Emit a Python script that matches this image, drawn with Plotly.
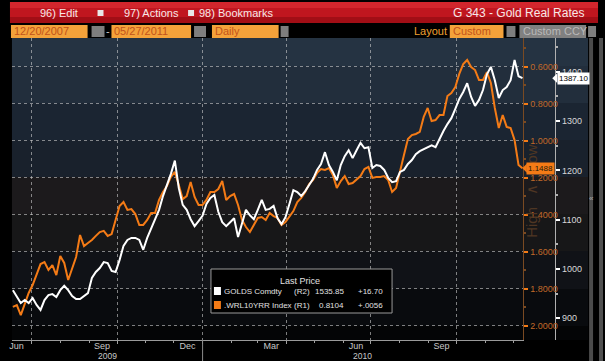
import plotly.graph_objects as go
import pandas as pd

W, H = 605, 361

# ---------------- data ----------------
dates = pd.date_range("2009-06-11", "2010-12-11", periods=130)

gold = [
    957, 943, 931, 937, 931, 941, 927, 917, 937, 947,
    949, 943, 957, 966, 957, 945, 939, 939, 945, 951,
    982, 994, 1002, 1014, 1012, 996, 994, 1018, 1047, 1059,
    1063, 1063, 1059, 1039, 1063, 1083, 1099, 1120, 1148, 1170,
    1193, 1220, 1164, 1130, 1120, 1101, 1087, 1097, 1108, 1132,
    1144, 1150, 1116, 1095, 1087, 1095, 1103, 1065, 1091, 1120,
    1109, 1101, 1120, 1140, 1120, 1122, 1128, 1103, 1091, 1105,
    1132, 1160, 1156, 1148, 1158, 1170, 1183, 1201, 1213, 1237,
    1211, 1197, 1180, 1211, 1229, 1241, 1225, 1241, 1256, 1245,
    1247, 1205, 1211, 1209, 1201, 1185, 1176, 1178, 1197, 1201,
    1213, 1221, 1233, 1239, 1243, 1247, 1251, 1247, 1264, 1280,
    1294, 1306, 1325, 1345, 1359, 1377, 1349, 1331, 1343, 1363,
    1395, 1410, 1383, 1347, 1363, 1369, 1383, 1424, 1391, 1387.10,
]

real_rate = [
    1.897, 1.887, 1.941, 1.876, 1.822, 1.779, 1.725, 1.666, 1.655, 1.698,
    1.671, 1.725, 1.622, 1.660, 1.752, 1.687, 1.628, 1.509, 1.569, 1.552,
    1.536, 1.514, 1.493, 1.487, 1.514, 1.504, 1.428, 1.353, 1.331, 1.374,
    1.369, 1.396, 1.455, 1.455, 1.428, 1.390, 1.390, 1.320, 1.277, 1.245,
    1.196, 1.169, 1.239, 1.315, 1.299, 1.223, 1.304, 1.347, 1.347, 1.320,
    1.277, 1.277, 1.261, 1.218, 1.320, 1.299, 1.288, 1.347, 1.428, 1.466,
    1.493, 1.455, 1.417, 1.412, 1.428, 1.390, 1.407, 1.417, 1.455, 1.439,
    1.407, 1.380, 1.331, 1.309, 1.277, 1.234, 1.212, 1.174, 1.153, 1.158,
    1.148, 1.185, 1.255, 1.218, 1.191, 1.234, 1.229, 1.212, 1.191, 1.153,
    1.142, 1.201, 1.196, 1.196, 1.191, 1.212, 1.277, 1.255, 1.158, 1.077,
    0.991, 0.970, 0.964, 0.953, 0.872, 0.824, 0.894, 0.889, 0.862, 0.862,
    0.759, 0.743, 0.711, 0.640, 0.587, 0.565, 0.603, 0.619, 0.673, 0.673,
    0.630, 0.689, 0.824, 0.932, 0.862, 0.926, 0.932, 0.997, 1.131, 1.1488,
]

x_tick_dates = ["2009-07-01", "2009-10-01", "2010-01-01", "2010-04-01", "2010-07-01", "2010-10-01"]
x_tick_text = ["Jun", "Sep", "Dec", "Mar", "Jun", "Sep"]
year_labels = ["2009", "2010"]
year_centers = ["2009-09-21", "2010-06-22"]

rate_ticks = [0.6, 0.8, 1.0, 1.2, 1.4, 1.6, 1.8, 2.0]
gold_ticks = [900, 1000, 1100, 1200, 1300, 1400]

legend_names = ["GOLDS Comdty", ".WRL10YRR Index"]
legend_axes = ["(R2)", "(R1)"]
legend_last = ["1535.85", "0.8104"]
legend_change = ["+16.70", "+.0056"]

ORANGE = "#f47b16"
FONT = "Liberation Sans"


def px(x):
    return x / W


def py(y):
    return 1 - y / H


fig = go.Figure()
fig.add_trace(go.Scatter(x=dates, y=real_rate, mode="lines", yaxis="y",
                         line=dict(color=ORANGE, width=2), name=legend_names[1]))
fig.add_trace(go.Scatter(x=dates, y=gold, mode="lines", yaxis="y2",
                         line=dict(color="#ffffff", width=2), name=legend_names[0]))

shapes = []
annotations = []

# background bands of the chart body
bands = [(38, 66, "#253342"), (66, 103, "#222e3c"), (103, 140, "#1b2532"),
         (140, 177, "#19212c"), (177, 214, "#1c1a1c"), (214, 251, "#171718"),
         (251, 289, "#101217"), (289, 326, "#090b0e"), (326, 340, "#040506")]
for y0, y1, c in bands:
    shapes.append(dict(type="rect", xref="paper", yref="paper", x0=px(9), x1=px(588),
                       y0=py(y1), y1=py(y0), fillcolor=c, line=dict(width=0), layer="below"))

# header red bar
for y0, y1, c in [(2, 8, "#d2262d"), (8, 17, "#c0161f"), (17, 23, "#a20e16")]:
    shapes.append(dict(type="rect", xref="paper", yref="paper", x0=px(7), x1=px(598),
                       y0=py(y1), y1=py(y0), fillcolor=c, line=dict(width=0)))
for xi in (95, 186):
    shapes.append(dict(type="rect", xref="paper", yref="paper", x0=px(xi), x1=px(xi + 6),
                       y0=py(16), y1=py(10), fillcolor="#e8e8e8", line=dict(width=0)))

hdr_font = dict(family=FONT, size=11, color="#f6e8e8")
for txt, xx in [("96) Edit", 35), ("97) Actions", 120), ("98) Bookmarks", 195)]:
    annotations.append(dict(text=txt, x=px(xx), y=py(13), xref="paper", yref="paper",
                            xanchor="left", yanchor="middle", showarrow=False, font=hdr_font))
annotations.append(dict(text="G 343 - Gold Real Rates", x=px(586), y=py(13), xref="paper",
                        yref="paper", xanchor="right", yanchor="middle", showarrow=False,
                        font=dict(family=FONT, size=12, color="#f6e8e8")))

# second header row
box_orange = "#f4a23a"
box_text = dict(family=FONT, size=11, color="#c2531a")
for x0, x1, txt in [(8, 85, "12/20/2007"), (109, 189, "05/27/2011"), (210, 277, "Daily"),
                    (449, 503, "Custom")]:
    shapes.append(dict(type="rect", xref="paper", yref="paper", x0=px(x0), x1=px(x1),
                       y0=py(38), y1=py(25), fillcolor=box_orange, line=dict(width=0)))
    annotations.append(dict(text=txt, x=px(x0 + 1), y=py(31.5), xref="paper", yref="paper",
                            xanchor="left", yanchor="middle", showarrow=False, font=box_text))
for x0, x1 in [(89, 102), (192, 204), (279, 287), (506, 515), (588, 596)]:
    shapes.append(dict(type="rect", xref="paper", yref="paper", x0=px(x0), x1=px(x1),
                       y0=py(37), y1=py(26), fillcolor="#7e7e7e", line=dict(width=0)))
shapes.append(dict(type="rect", xref="paper", yref="paper", x0=px(519), x1=px(586),
                   y0=py(38), y1=py(25), fillcolor="#808080", line=dict(width=0)))
annotations.append(dict(text="Custom CCY", x=px(521), y=py(31.5), xref="paper", yref="paper",
                        xanchor="left", yanchor="middle", showarrow=False,
                        font=dict(family=FONT, size=11, color="#b9b9b9")))
annotations.append(dict(text="Layout", x=px(448), y=py(31.5), xref="paper", yref="paper",
                        xanchor="right", yanchor="middle", showarrow=False,
                        font=dict(family=FONT, size=11, color="#f0a030")))
annotations.append(dict(text="-", x=px(105.5), y=py(31.5), xref="paper", yref="paper",
                        xanchor="center", yanchor="middle", showarrow=False,
                        font=dict(family=FONT, size=11, color="#cccccc")))

# scrollbar at right
shapes.append(dict(type="rect", xref="paper", yref="paper", x0=px(589), x1=px(593),
                   y0=py(361), y1=py(38), fillcolor="#4b4b4b", line=dict(width=0)))
shapes.append(dict(type="rect", xref="paper", yref="paper", x0=px(599), x1=px(603),
                   y0=py(361), y1=py(38), fillcolor="#505050", line=dict(width=0)))
annotations.append(dict(text="«", x=px(596), y=py(199), xref="paper", yref="paper",
                        showarrow=False, font=dict(family=FONT, size=8, color="#aaaaaa")))

# year separator
shapes.append(dict(type="line", xref="x", yref="paper", x0="2010-01-01", x1="2010-01-01",
                   y0=py(361), y1=py(340), line=dict(color="#8a8a8a", width=1)))
for lab, c in zip(year_labels, year_centers):
    annotations.append(dict(text=lab, x=c, y=py(355.5), xref="x", yref="paper",
                            xanchor="center", yanchor="middle", showarrow=False,
                            font=dict(family=FONT, size=8.5, color="#c8c8c8")))

# Low / High label on inverted axis
lh_font = dict(family=FONT, size=15, color="#4f3623")
for txt, yy in [("Low", 158), ("∧", 189), ("High", 222)]:
    annotations.append(dict(text=txt, x=px(541), y=py(yy), xref="paper", yref="paper",
                            textangle=-90, showarrow=False, font=lh_font))

# last value flags
annotations.append(dict(text="1387.10", x=px(557), y=gold[-1], xref="paper", yref="y2",
                        xanchor="left", yanchor="middle", showarrow=False, bgcolor="#ffffff",
                        borderpad=1, font=dict(family=FONT, size=8, color="#000000")))
shapes.append(dict(type="path", xref="paper", yref="y2",
                   path=f"M {px(552)},{gold[-1]} L {px(557)},{gold[-1] + 10} L {px(557)},{gold[-1] - 10} Z",
                   fillcolor="#ffffff", line=dict(width=0)))
annotations.append(dict(text="1.1488", x=px(526), y=real_rate[-1], xref="paper", yref="y",
                        xanchor="left", yanchor="middle", showarrow=False, bgcolor=ORANGE,
                        borderpad=1, font=dict(family=FONT, size=8, color="#2a1a0a")))
shapes.append(dict(type="path", xref="paper", yref="y",
                   path=f"M {px(522)},{real_rate[-1]} L {px(526.5)},{real_rate[-1] - 0.025} L {px(526.5)},{real_rate[-1] + 0.025} Z",
                   fillcolor=ORANGE, line=dict(width=0)))

# legend box
shapes.append(dict(type="rect", xref="paper", yref="paper", x0=px(209), x1=px(391),
                   y0=py(313), y1=py(269), fillcolor="#000000",
                   line=dict(color="#9a9a9a", width=1), layer="above"))
lg_font = dict(family=FONT, size=8, color="#e0e0e0")
annotations.append(dict(text="Last Price", x=px(298), y=py(281), xref="paper", yref="paper",
                        xanchor="center", yanchor="middle", showarrow=False,
                        font=dict(family=FONT, size=9, color="#e0e0e0")))
for i, (row_y, sq) in enumerate([(291, "#ffffff"), (305, ORANGE)]):
    shapes.append(dict(type="rect", xref="paper", yref="paper", x0=px(212), x1=px(219),
                       y0=py(row_y + 4), y1=py(row_y - 4), fillcolor=sq, line=dict(width=0),
                       layer="above"))
    annotations.append(dict(text=legend_names[i], x=px(220), y=py(row_y), xref="paper",
                            yref="paper", xanchor="left", yanchor="middle", showarrow=False,
                            font=lg_font))
    annotations.append(dict(text=legend_axes[i], x=px(290), y=py(row_y),
                            xref="paper", yref="paper", xanchor="left", yanchor="middle",
                            showarrow=False, font=lg_font))
    annotations.append(dict(text=legend_last[i], x=px(345), y=py(row_y), xref="paper",
                            yref="paper", xanchor="right", yanchor="middle", showarrow=False,
                            font=lg_font))
    annotations.append(dict(text=legend_change[i], x=px(384), y=py(row_y), xref="paper",
                            yref="paper", xanchor="right", yanchor="middle", showarrow=False,
                            font=lg_font))

grid = dict(showgrid=True, gridcolor="rgba(205,205,205,0.6)", gridwidth=1, griddash="dot")

fig.update_layout(
    width=W, height=H, margin=dict(l=0, r=0, t=0, b=0),
    paper_bgcolor="#000000", plot_bgcolor="rgba(0,0,0,0)", showlegend=False,
    font=dict(family=FONT),
    xaxis=dict(domain=[px(9), px(523)], type="date", range=["2009-06-10", "2010-12-12"],
               tickmode="array", tickvals=x_tick_dates, ticktext=x_tick_text,
               ticklabelshift=-15, ticklabelstandoff=-5,
               tickfont=dict(family=FONT, size=9, color="#c8c8c8"),
               ticks="outside", ticklen=3, tickcolor="#a0a0a0",
               showline=True, linecolor="#9a9a9a", linewidth=1, zeroline=False,
               minor=dict(dtick="M1", tick0="2009-07-01", ticks="outside", ticklen=2,
                          tickcolor="#a0a0a0", showgrid=False),
               **grid),
    yaxis=dict(domain=[py(339.5), py(38)], range=[2.0729, 0.4462], side="right", anchor="x",
               tickmode="array", tickvals=rate_ticks, ticktext=[f"{v:.4f}" for v in rate_ticks],
               tickfont=dict(family=FONT, size=9, color="#c0692a"),
               ticks="outside", ticklen=4, tickwidth=2, tickcolor=ORANGE,
               showline=True, linecolor="#7a4a22", linewidth=1, zeroline=False,
               minor=dict(tick0=0.5, dtick=0.1, ticks="outside", ticklen=2,
                          tickcolor="#7a4a22", showgrid=False),
               **grid),
    yaxis2=dict(overlaying="y", side="right", anchor="free", position=px(555),
                range=[857, 1468.6], tickmode="array", tickvals=gold_ticks,
                tickfont=dict(family=FONT, size=9, color="#d8d8d8"),
                ticks="outside", ticklen=4, tickwidth=2, tickcolor="#ffffff",
                showline=True, linecolor="#b0b0b0", linewidth=1, zeroline=False,
                showgrid=False,
                minor=dict(tick0=850, dtick=50, ticks="outside", ticklen=2,
                           tickcolor="#b0b0b0", showgrid=False)),
    shapes=shapes, annotations=annotations,
)

fig.write_html("out.html", config={"displayModeBar": False},
               post_script="document.body.style.margin='0';document.body.style.padding='0';"
                           "document.body.style.overflow='hidden';")
